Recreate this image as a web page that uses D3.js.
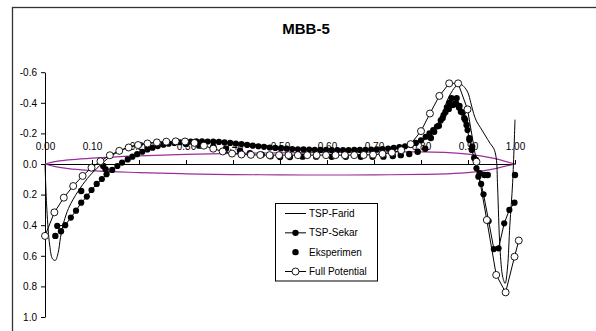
<!DOCTYPE html>
<html>
<head>
<meta charset="utf-8">
<script src="https://cdn.jsdelivr.net/npm/d3@7"></script>
<style>
  html, body { margin: 0; padding: 0; background: #fff; }
  svg { display: block; font-family: Arial, "Liberation Sans", sans-serif; }
</style>
</head>
<body>
<svg id="chart" width="596" height="331"></svg>
<script>
// Pressure distribution on the MBB-5 section: chord position x/c vs Cp (axis reversed).
const chartTitle = "MBB-5";
const seriesNames = ["TSP-Farid", "TSP-Sekar", "Eksperimen", "Full Potential"];
const xTicks = [0, 0.1, 0.2, 0.3, 0.4, 0.5, 0.6, 0.7, 0.8, 0.9, 1.0];
const xTickLabels = ["0.00", "0.10", "0.20", "0.30", "0.40", "0.50", "0.60", "0.70", "0.80", "0.90", "1.00"];
const yTicks = [-0.6, -0.4, -0.2, 0.0, 0.2, 0.4, 0.6, 0.8, 1.0];
const yTickLabels = ["-0.6", "-0.4", "-0.2", "0.0", "0.2", "0.4", "0.6", "0.8", "1.0"];

// [x/c, Cp]
const tspFarid = [
  [0.000, 0.00], [0.004, 0.30], [0.010, 0.53], [0.016, 0.62], [0.022, 0.63], [0.028, 0.58],
  [0.033, 0.48], [0.040, 0.38], [0.050, 0.29], [0.060, 0.23], [0.070, 0.18], [0.080, 0.135],
  [0.090, 0.095], [0.100, 0.06], [0.110, 0.03], [0.120, 0.00], [0.135, -0.04], [0.150, -0.07],
  [0.165, -0.095], [0.180, -0.112], [0.200, -0.128], [0.225, -0.138], [0.250, -0.144],
  [0.300, -0.148], [0.350, -0.147], [0.400, -0.140], [0.450, -0.125], [0.500, -0.110],
  [0.550, -0.100], [0.600, -0.094], [0.650, -0.092], [0.700, -0.094], [0.740, -0.100],
  [0.770, -0.112], [0.790, -0.130], [0.810, -0.165], [0.830, -0.230], [0.845, -0.320],
  [0.855, -0.410], [0.865, -0.470], [0.875, -0.510], [0.885, -0.520], [0.893, -0.500],
  [0.900, -0.465], [0.906, -0.400], [0.912, -0.330], [0.918, -0.280], [0.926, -0.240],
  [0.936, -0.190], [0.947, -0.135], [0.955, -0.100], [0.960, -0.040], [0.963, 0.150],
  [0.968, 0.550], [0.974, 0.740], [0.979, 0.780], [0.984, 0.680], [0.989, 0.400],
  [0.995, 0.120], [1.000, -0.290]
];

const tspSekar = [
  [0.026, 0.405], [0.043, 0.400], [0.055, 0.350], [0.066, 0.305], [0.077, 0.253], [0.089, 0.213],
  [0.099, 0.170], [0.110, 0.130], [0.121, 0.098], [0.131, 0.067], [0.143, 0.039], [0.154, 0.013],
  [0.164, -0.009], [0.176, -0.030], [0.186, -0.048], [0.196, -0.064], [0.207, -0.080],
  [0.218, -0.095], [0.229, -0.107], [0.240, -0.117], [0.252, -0.126], [0.263, -0.133],
  [0.275, -0.138], [0.287, -0.142], [0.298, -0.145], [0.310, -0.147], [0.322, -0.148],
  [0.334, -0.148], [0.346, -0.147], [0.358, -0.146], [0.370, -0.144], [0.382, -0.141],
  [0.394, -0.138], [0.406, -0.134], [0.418, -0.130], [0.430, -0.125], [0.442, -0.120],
  [0.454, -0.116], [0.466, -0.112], [0.478, -0.108], [0.490, -0.105], [0.502, -0.102],
  [0.514, -0.100], [0.526, -0.098], [0.538, -0.096], [0.550, -0.095], [0.562, -0.094],
  [0.574, -0.093], [0.586, -0.092], [0.598, -0.092], [0.610, -0.091], [0.622, -0.091],
  [0.634, -0.091], [0.646, -0.091], [0.658, -0.092], [0.670, -0.092], [0.682, -0.093],
  [0.694, -0.094], [0.706, -0.096], [0.718, -0.098], [0.730, -0.101], [0.742, -0.105],
  [0.754, -0.110], [0.766, -0.116], [0.778, -0.125], [0.789, -0.138], [0.800, -0.155],
  [0.810, -0.178], [0.818, -0.200], [0.826, -0.222], [0.834, -0.245], [0.842, -0.285],
  [0.848, -0.320], [0.855, -0.370], [0.860, -0.400], [0.865, -0.430], [0.871, -0.390],
  [0.876, -0.430], [0.882, -0.380], [0.889, -0.335], [0.894, -0.288], [0.899, -0.222],
  [0.903, -0.157], [0.908, -0.092], [0.913, -0.040], [0.918, 0.028], [0.922, 0.083],
  [0.928, 0.130], [0.933, 0.198], [0.944, 0.373], [0.955, 0.556], [0.965, 0.551],
  [0.977, 0.388], [0.988, 0.300], [0.999, 0.253]
];

const eksperimen = [
  [0.022, 0.470], [0.034, 0.440], [0.077, 0.176], [0.124, 0.013], [0.129, 0.035],
  [0.300, -0.130], [0.328, -0.120], [0.358, -0.113], [0.385, -0.100], [0.415, -0.087],
  [0.436, -0.070], [0.461, -0.060], [0.480, -0.050], [0.500, -0.046], [0.521, -0.046],
  [0.548, -0.048], [0.577, -0.048], [0.610, -0.047], [0.640, -0.047], [0.672, -0.047],
  [0.697, -0.047], [0.720, -0.048], [0.740, -0.052], [0.757, -0.058], [0.775, -0.065],
  [0.793, -0.080], [0.809, -0.100], [0.821, -0.170], [0.828, -0.210], [0.838, -0.250],
  [0.846, -0.300], [0.852, -0.340], [0.859, -0.360], [0.867, -0.386], [0.874, -0.397],
  [0.881, -0.370], [0.885, -0.342], [0.892, -0.300], [0.897, -0.255], [0.903, -0.168],
  [0.909, -0.113], [0.917, -0.026], [0.925, 0.060], [0.935, 0.072], [0.942, 0.072],
  [1.000, 0.072]
];

const fullPotential = [
  [0.000, 0.470], [0.020, 0.316], [0.040, 0.220], [0.060, 0.144], [0.080, 0.078],
  [0.099, 0.024], [0.118, -0.018], [0.138, -0.057], [0.158, -0.086], [0.178, -0.108],
  [0.198, -0.124], [0.218, -0.134], [0.238, -0.141], [0.258, -0.146], [0.278, -0.148],
  [0.298, -0.147], [0.318, -0.138], [0.338, -0.120], [0.358, -0.100], [0.378, -0.082],
  [0.398, -0.068], [0.418, -0.062], [0.438, -0.060], [0.458, -0.059], [0.478, -0.058],
  [0.498, -0.058], [0.518, -0.058], [0.538, -0.058], [0.558, -0.058], [0.578, -0.058],
  [0.598, -0.058], [0.618, -0.058], [0.638, -0.058], [0.658, -0.058], [0.678, -0.059],
  [0.698, -0.061], [0.718, -0.066], [0.738, -0.074], [0.758, -0.090], [0.778, -0.130],
  [0.800, -0.215], [0.819, -0.330], [0.839, -0.445], [0.860, -0.527], [0.879, -0.527],
  [0.899, -0.357], [0.918, -0.015], [0.940, 0.366], [0.960, 0.725], [0.980, 0.839],
  [0.999, 0.606], [1.008, 0.500]
];

// Section contour, scaled onto the Cp axis
const airfoilUpper = [
  [0, 0], [0.02, -0.015], [0.05, -0.027], [0.10, -0.038], [0.20, -0.053], [0.30, -0.063],
  [0.40, -0.069], [0.50, -0.073], [0.60, -0.076], [0.70, -0.078], [0.80, -0.079],
  [0.85, -0.076], [0.90, -0.064], [0.95, -0.040], [1.0, 0]
];
const airfoilLower = [
  [0, 0], [0.02, 0.016], [0.05, 0.030], [0.10, 0.043], [0.20, 0.056], [0.30, 0.064],
  [0.40, 0.069], [0.50, 0.071], [0.60, 0.072], [0.70, 0.071], [0.80, 0.068],
  [0.85, 0.065], [0.90, 0.057], [0.95, 0.035], [1.0, 0]
];

const svg = d3.select("#chart");

// Chart area frame
svg.append("rect")
  .attr("x", 12.5).attr("y", 7.5).attr("width", 600).attr("height", 340)
  .attr("fill", "#fff").attr("stroke", "#333").attr("stroke-width", 1.3);

svg.append("text")
  .attr("x", 306).attr("y", 34)
  .attr("text-anchor", "middle")
  .attr("font-size", 15).attr("font-weight", "bold")
  .text(chartTitle);

const x = d3.scaleLinear().domain([0, 1]).range([45, 515]);
const y = d3.scaleLinear().domain([-0.6, 1.0]).range([72.2, 317]);

// Y axis
const yAxis = d3.axisLeft(y)
  .tickValues(yTicks)
  .tickFormat((d, i) => yTickLabels[i])
  .tickSize(4).tickSizeOuter(0).tickPadding(4);
const gy = svg.append("g").attr("transform", "translate(45,0)").call(yAxis);
gy.selectAll("text").attr("font-size", 10).attr("fill", "#000").attr("font-family", "Arial, 'Liberation Sans', sans-serif");
gy.selectAll("line, path").attr("stroke", "#000");

// X axis along Cp = 0, labels above the line
const xAxis = d3.axisTop(x)
  .tickValues(xTicks)
  .tickFormat((d, i) => xTickLabels[i])
  .tickSize(4).tickSizeOuter(0).tickPadding(10.5);
const gx = svg.append("g").attr("transform", `translate(0,${y(0)})`).call(xAxis);
gx.selectAll("text").attr("font-size", 10).attr("fill", "#000").attr("font-family", "Arial, 'Liberation Sans', sans-serif");
gx.selectAll("line, path").attr("stroke", "#000");

// Section contour
const contour = d3.line().x(d => x(d[0])).y(d => y(d[1])).curve(d3.curveMonotoneX);
[airfoilUpper, airfoilLower].forEach(s => {
  svg.append("path").attr("d", contour(s))
    .attr("fill", "none").attr("stroke", "#9b2f9b").attr("stroke-width", 1.2);
});

const straight = d3.line().x(d => x(d[0])).y(d => y(d[1]));
const smooth = d3.line().x(d => x(d[0])).y(d => y(d[1])).curve(d3.curveCatmullRom.alpha(0.5));

// TSP-Farid: line only
svg.append("path").attr("d", smooth(tspFarid))
  .attr("fill", "none").attr("stroke", "#000").attr("stroke-width", 1);

// TSP-Sekar: line with filled dots
svg.append("path").attr("d", straight(tspSekar))
  .attr("fill", "none").attr("stroke", "#000").attr("stroke-width", 1);
svg.append("g").selectAll("circle").data(tspSekar).join("circle")
  .attr("cx", d => x(d[0])).attr("cy", d => y(d[1])).attr("r", 3.1).attr("fill", "#000");

// Eksperimen: filled dots
svg.append("g").selectAll("circle").data(eksperimen).join("circle")
  .attr("cx", d => x(d[0])).attr("cy", d => y(d[1])).attr("r", 3.2).attr("fill", "#000");

// Full Potential: line with open circles
svg.append("path").attr("d", straight(fullPotential))
  .attr("fill", "none").attr("stroke", "#000").attr("stroke-width", 1);
svg.append("g").selectAll("circle").data(fullPotential).join("circle")
  .attr("cx", d => x(d[0])).attr("cy", d => y(d[1])).attr("r", 3.5)
  .attr("fill", "#fff").attr("stroke", "#000").attr("stroke-width", 0.9);

// Legend
const legend = svg.append("g");
legend.append("rect")
  .attr("x", 275.5).attr("y", 203.5).attr("width", 102).attr("height", 77.5)
  .attr("fill", "#fff").attr("stroke", "#000").attr("stroke-width", 1);
const rowY = d3.scalePoint().domain(seriesNames).range([213.5, 271.5]);
seriesNames.forEach((name, i) => {
  const cy = rowY(name);
  if (i !== 2) {
    legend.append("line").attr("x1", 285).attr("x2", 306).attr("y1", cy).attr("y2", cy)
      .attr("stroke", "#000").attr("stroke-width", 1);
  }
  if (i === 1 || i === 2) {
    legend.append("circle").attr("cx", 295.5).attr("cy", cy).attr("r", 3.2).attr("fill", "#000");
  } else if (i === 3) {
    legend.append("circle").attr("cx", 295.5).attr("cy", cy).attr("r", 3.5)
      .attr("fill", "#fff").attr("stroke", "#000").attr("stroke-width", 0.9);
  }
  legend.append("text").attr("x", 309).attr("y", cy).attr("dy", "0.35em")
    .attr("font-size", 10).text(name);
});
</script>
</body>
</html>
